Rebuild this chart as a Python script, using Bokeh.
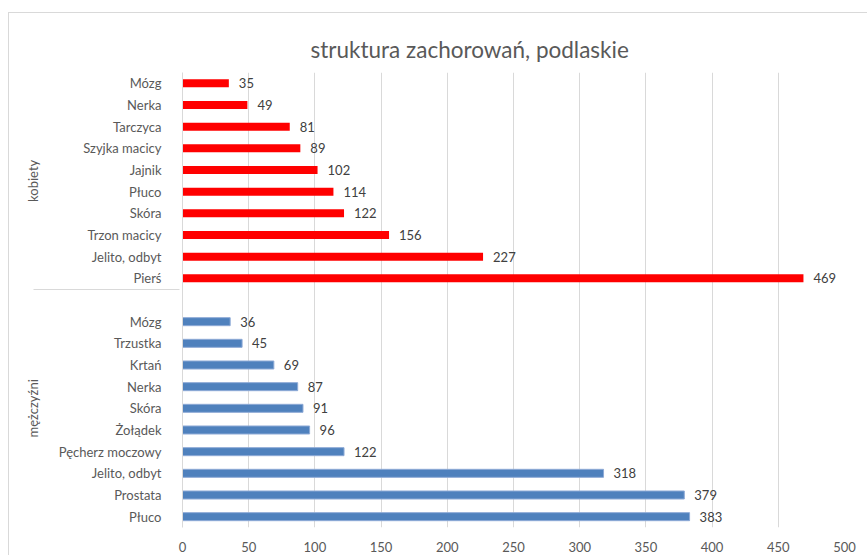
from bokeh.plotting import figure
from bokeh.models import FactorRange, Range1d, FixedTicker, ColumnDataSource
from bokeh.core.properties import value
from bokeh.embed import file_html
from bokeh.resources import INLINE

# ---- data (top-to-bottom order as shown) ----
title_text = "struktura zachorowań, podlaskie"
groups = ["kobiety", "mężczyźni"]
women_cats = ["Mózg", "Nerka", "Tarczyca", "Szyjka macicy", "Jajnik", "Płuco",
              "Skóra", "Trzon macicy", "Jelito, odbyt", "Pierś"]
women_vals = [35, 49, 81, 89, 102, 114, 122, 156, 227, 469]
men_cats = ["Mózg", "Trzustka", "Krtań", "Nerka", "Skóra", "Żołądek",
            "Pęcherz moczowy", "Jelito, odbyt", "Prostata", "Płuco"]
men_vals = [36, 45, 69, 87, 91, 96, 122, 318, 379, 383]
x_ticks = [0, 50, 100, 150, 200, 250, 300, 350, 400, 450, 500]

FONT = "Lato"
GRAY = "#595959"

# categorical factors, listed bottom -> top
factors = ([(groups[1], c) for c in reversed(men_cats)] + [(groups[1], " ")] +
           [(groups[0], c) for c in reversed(women_cats)])

w_src = ColumnDataSource(dict(cat=[(groups[0], c) for c in women_cats],
                              val=women_vals, label=[str(v) for v in women_vals]))
m_src = ColumnDataSource(dict(cat=[(groups[1], c) for c in men_cats],
                              val=men_vals, label=[str(v) for v in men_vals]))

p = figure(width=859, height=543,
           y_range=FactorRange(*factors, group_padding=0, factor_padding=0, range_padding=0),
           x_range=Range1d(0, 500),
           output_backend="svg", toolbar_location=None,
           min_border_left=173, min_border_right=24, min_border_top=59, min_border_bottom=29,
           styles={"margin-top": "12px", "margin-left": "8px",
                   "border-top": "1px solid #d9d9d9",
                   "border-left": "1px solid #d9d9d9"})

p.hbar(y="cat", right="val", left=0, height=0.37, source=w_src,
       fill_color="#ff0000", line_color=None)
p.hbar(y="cat", right="val", left=0, height=0.37, source=m_src,
       fill_color="#4f81bd", line_color="#8eaad6", line_width=1)

for src in (w_src, m_src):
    p.text(x="val", y="cat", text="label", source=src, x_offset=10,
           text_baseline="middle", text_align="left",
           text_font=value(FONT), text_font_size="13px", text_color="#404040")

# title
p.title.text = title_text
p.title.text_font = FONT
p.title.text_font_size = "22.5px"
p.title.text_font_style = "normal"
p.title.text_color = GRAY
p.title.align = "left"
p.title.offset = 128
p.title.standoff = 19

# x axis
p.xaxis.ticker = FixedTicker(ticks=x_ticks)
p.xaxis.axis_line_color = None
p.xaxis.major_tick_line_color = None
p.xaxis.minor_tick_line_color = None
p.xaxis.major_label_standoff = 8
p.xaxis.major_label_text_font = FONT
p.xaxis.major_label_text_font_size = "13px"
p.xaxis.major_label_text_color = GRAY

# y axis (two-level categorical)
ya = p.yaxis[0]
ya.axis_line_color = "#d9d9d9"
ya.major_tick_line_color = None
ya.minor_tick_line_color = None
ya.major_label_standoff = 15
ya.major_label_text_font = FONT
ya.major_label_text_font_size = "13px"
ya.major_label_text_color = GRAY
ya.group_text_font = FONT
ya.group_text_font_size = "13px"
ya.group_text_font_style = "normal"
ya.group_text_color = GRAY
ya.separator_line_color = "#d9d9d9"
ya.separator_line_width = 1

p.xgrid.grid_line_color = "#d9d9d9"
p.ygrid.grid_line_color = None
p.outline_line_color = None

open("out.html", "w").write(file_html(p, INLINE))
